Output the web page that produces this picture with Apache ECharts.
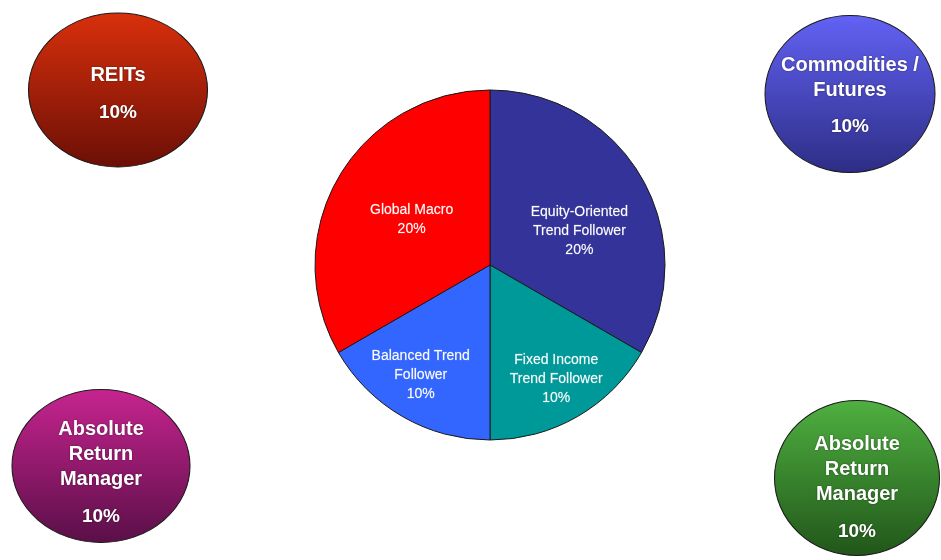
<!DOCTYPE html>
<html>
  <head>
    <meta charset="utf-8">
    <title>Allocation</title>
    <style>
      html, body { margin: 0; padding: 0; background: #fff; }
      #main { width: 941px; height: 560px; }
    </style>
    <script src="https://cdn.jsdelivr.net/npm/echarts@6/dist/echarts.min.js"></script>
  </head>
  <body>
    <div id="main"></div>
    <script type="text/javascript">

      // pie data (centre)
      var pieNames = ['Equity-Oriented\nTrend Follower', 'Fixed Income\nTrend Follower', 'Balanced Trend\nFollower', 'Global Macro']
      var pieValues = [20, 10, 10, 20]
      var pieColors = ['#333399', '#009999', '#3366ff', '#ff0000']
      var pieLabelShift = [[11, 11], [21, 36], [-24, 32], [0, 0]]

      // corner bubbles
      var bubbleNames = ['REITs', 'Commodities /\nFutures', 'Absolute\nReturn\nManager', 'Absolute\nReturn\nManager']
      var bubbleValues = [10, 10, 10, 10]
      // layout only: centre x, centre y, width, height, label shift
      var bubbleX = [118, 850, 101, 857]
      var bubbleY = [90, 94, 466, 478]
      var bubbleW = [179, 170, 178, 165]
      var bubbleH = [154, 157, 153, 155]
      var bubbleShift = [10, 8, 13, 16]
      var bubbleTop = ['#d9300c', '#6262f5', '#c7248f', '#4fb040']
      var bubbleBottom = ['#6b0f06', '#2d2d85', '#5a0f48', '#21561a']

      var myChart = echarts.init(document.getElementById('main'))

      var pieData = pieNames.map(function (n, i) {
        return {
          name: n,
          value: pieValues[i],
          itemStyle: { color: pieColors[i] },
          label: { offset: pieLabelShift[i] }
        }
      })

      var bubbleData = bubbleNames.map(function (n, i) {
        return {
          name: n,
          value: [bubbleX[i], bubbleY[i], bubbleValues[i]],
          symbolSize: [bubbleW[i], bubbleH[i]],
          itemStyle: {
            color: new echarts.graphic.LinearGradient(0, 0, 0, 1, [
              { offset: 0, color: bubbleTop[i] },
              { offset: 1, color: bubbleBottom[i] }
            ])
          },
          label: { offset: [0, bubbleShift[i]] }
        }
      })

      var option = {
        animation: false,
        backgroundColor: '#ffffff',
        grid: { left: 0, right: 0, top: 0, bottom: 0 },
        xAxis: { type: 'value', min: 0, max: 941, show: false },
        yAxis: { type: 'value', min: 0, max: 560, inverse: true, show: false },
        series: [
          {
            type: 'pie',
            center: [490, 265],
            radius: 175,
            startAngle: 90,
            clockwise: true,
            data: pieData,
            itemStyle: { borderColor: '#1a1a1a', borderWidth: 1 },
            label: {
              position: 'inside',
              color: '#ffffff',
              fontFamily: 'Liberation Sans, Arial, sans-serif',
              fontSize: 14,
              lineHeight: 19,
              textBorderColor: 'rgba(255,255,255,0.35)',
              textBorderWidth: 0.4,
              formatter: function (p) { return p.name + '\n' + p.value + '%' }
            },
            labelLine: { show: false },
            emphasis: { disabled: true }
          },
          {
            type: 'scatter',
            symbol: 'circle',
            data: bubbleData,
            itemStyle: { borderColor: '#1a1a1a', borderWidth: 1, opacity: 1 },
            label: {
              show: true,
              position: 'inside',
              opacity: 1,
              formatter: function (p) {
                var lines = p.name.split('\n').map(function (l) { return '{n|' + l + '}' })
                return lines.join('\n') + '\n{p|' + p.value[2] + '%}'
              },
              rich: {
                n: {
                  color: '#ffffff', fontWeight: 'bold', fontSize: 20, lineHeight: 25,
                  fontFamily: 'Liberation Sans, Arial, sans-serif',
                  textShadowColor: 'rgba(0,0,0,0.45)', textShadowBlur: 2
                },
                p: {
                  color: '#ffffff', fontWeight: 'bold', fontSize: 19, lineHeight: 49,
                  fontFamily: 'Liberation Sans, Arial, sans-serif',
                  textShadowColor: 'rgba(0,0,0,0.45)', textShadowBlur: 2
                }
              }
            },
            emphasis: { disabled: true }
          }
        ]
      }

      myChart.setOption(option)
    </script>
  </body>
</html>
